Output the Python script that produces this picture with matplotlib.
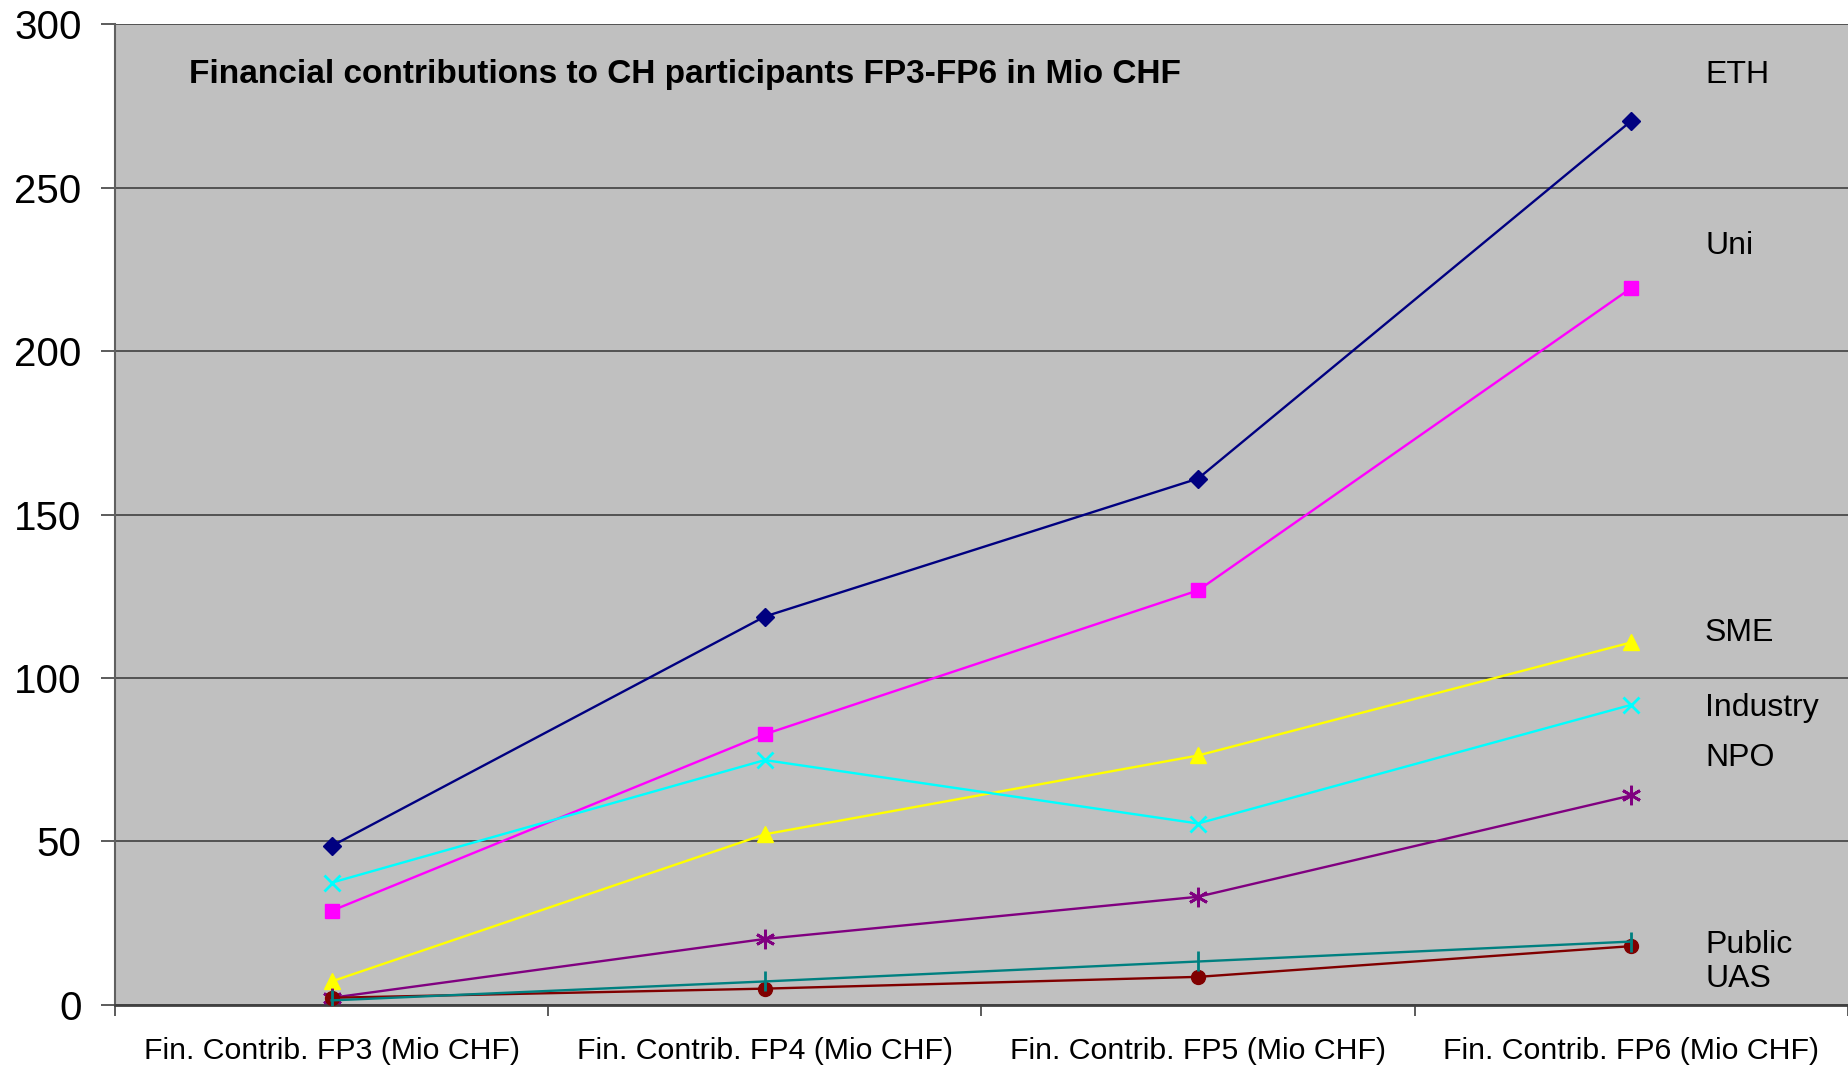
import matplotlib
matplotlib.use("Agg")
import matplotlib.pyplot as plt

# categories and series (Mio CHF)
categories = ["Fin. Contrib. FP3 (Mio CHF)", "Fin. Contrib. FP4 (Mio CHF)",
              "Fin. Contrib. FP5 (Mio CHF)", "Fin. Contrib. FP6 (Mio CHF)"]
eth = [48.6, 118.8, 161.0, 270.4]
uni = [28.8, 82.8, 126.8, 219.3]
sme = [7.2, 52.2, 76.3, 110.9]
industry = [37.4, 74.9, 55.5, 91.8]
npo = [2.2, 20.2, 33.1, 64.1]
public = [1.4, 7.2, 13.3, 19.4]
uas = [2.2, 5.0, 8.6, 18.0]

# right side labels (name, y position)
label_names = ["ETH", "Uni", "SME", "Industry", "NPO", "Public", "UAS"]
label_y = [284.5, 232.0, 113.8, 90.7, 75.6, 18.4, 7.8]

plt.rcParams['font.family'] = ['Liberation Sans', 'DejaVu Sans']

fig = plt.figure(figsize=(18.48, 10.68), dpi=100)
ax = fig.add_axes([0.0622, 0.059, 0.9378, 0.9185])
ax.set_facecolor("#C0C0C0")

x = [0.5, 1.5, 2.5, 3.5]
lw = 1.7
ax.plot(x, eth, color="#000080", marker="D", ms=9, lw=lw, zorder=3)
ax.plot(x, uni, color="#FF00FF", marker="s", ms=10, lw=lw, zorder=3)
ax.plot(x, sme, color="#FFFF00", marker="^", ms=11, lw=lw, zorder=3)
ax.plot(x, industry, color="#00FFFF", marker="x", ms=12, mew=2, lw=lw, zorder=3)
ax.plot(x, npo, color="#800080", marker=(6, 2, 0), ms=14, mew=2, lw=lw, zorder=3)
ax.plot(x, uas, color="#800000", marker="o", ms=10, lw=lw, zorder=3)
ax.plot(x, public, color="#008080", marker="|", ms=14, mew=2, lw=lw, zorder=3)

ax.set_xlim(0, 4)
ax.set_ylim(0, 300)
ax.set_yticks([0, 50, 100, 150, 200, 250, 300])
ax.tick_params(axis="y", labelsize=29, length=10, width=1.2, color="#404040", pad=14)
ax.set_xticks(x)
ax.set_xticklabels(categories)
ax.tick_params(axis="x", which="major", length=0, labelsize=21.8, pad=23)
ax.set_xticks([0, 1, 2, 3, 4], minor=True)
ax.tick_params(axis="x", which="minor", length=8, width=1.2, color="#404040")

ax.grid(axis="y", color="#404040", lw=1.2)
ax.set_axisbelow(True)
for s in ["top", "right"]:
    ax.spines[s].set_visible(False)
ax.spines["left"].set_color("#606060")
ax.spines["left"].set_linewidth(1.5)
ax.spines["bottom"].set_color("#404040")
ax.spines["bottom"].set_linewidth(2)

ax.text(0.17, 284.5, "Financial contributions to CH participants FP3-FP6 in Mio CHF",
        fontsize=24, fontweight="bold", va="center", ha="left")
for name, yy in zip(label_names, label_y):
    ax.text(3.67, yy, name, fontsize=23, va="center", ha="left")

fig.savefig("out.png", dpi=100)
